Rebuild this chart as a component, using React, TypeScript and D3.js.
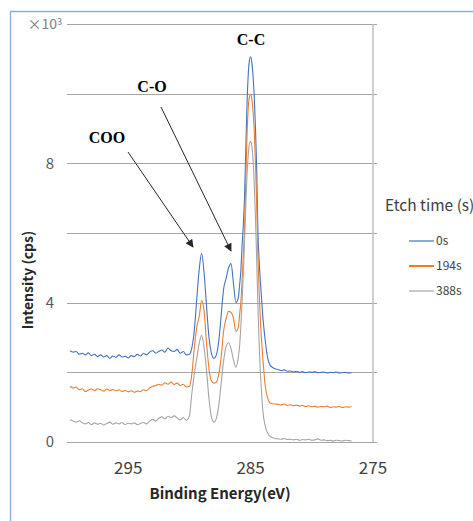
import React, { useEffect, useRef } from 'react';
import * as d3 from 'd3';

// binding energy (eV), read left to right along the reversed axis
const energies = [
  299.75, 299.5, 299.25, 299.0, 298.75, 298.5, 298.25, 298.0, 297.75, 297.5,
  297.25, 297.0, 296.75, 296.5, 296.25, 296.0, 295.75, 295.5, 295.25, 295.0,
  294.75, 294.5, 294.25, 294.0, 293.75, 293.5, 293.25, 293.0, 292.75, 292.5,
  292.25, 292.0, 291.75, 291.5, 291.25, 291.0, 290.75, 290.5, 290.25,
  290.0, 289.8, 289.6, 289.4, 289.2, 289.0, 288.8, 288.6, 288.4, 288.2,
  288.0, 287.8, 287.6, 287.4, 287.2, 287.0, 286.8, 286.6, 286.4, 286.2,
  286.0, 285.9, 285.8, 285.7, 285.6, 285.5, 285.4, 285.3, 285.2, 285.1,
  285.0, 284.9, 284.8, 284.7, 284.6, 284.5, 284.4, 284.3, 284.2, 284.1,
  284.0, 283.8, 283.6, 283.4, 283.2, 283.0,
  282.75, 282.5, 282.25, 282.0, 281.75, 281.5, 281.25, 281.0, 280.75, 280.5,
  280.25, 280.0, 279.75, 279.5, 279.25, 279.0, 278.75, 278.5, 278.25, 278.0,
  277.75, 277.5, 277.25, 277.0, 276.75,
];

// intensity in 10^3 cps
const etch0s = [
  2.62, 2.58, 2.6, 2.52, 2.55, 2.5, 2.56, 2.48, 2.52, 2.45,
  2.5, 2.44, 2.48, 2.4, 2.47, 2.43, 2.5, 2.44, 2.46, 2.41,
  2.48, 2.45, 2.52, 2.47, 2.55, 2.5, 2.58, 2.62, 2.55, 2.6,
  2.64, 2.58, 2.7, 2.62, 2.6, 2.66, 2.55, 2.6, 2.5,
  2.52, 2.7, 3.2, 4.1, 4.95, 5.42, 4.85, 3.9, 3.0, 2.55,
  2.4, 2.5, 2.9, 3.65, 4.4, 4.7, 5.0, 5.12, 4.55, 4.0,
  4.15, 4.5, 4.9, 5.6, 6.2, 7.0, 8.3, 9.6, 10.5, 10.95,
  11.06, 10.9, 10.5, 9.9, 9.0, 7.8, 6.0, 5.2, 4.6, 4.1,
  3.6, 2.9, 2.4, 2.2, 2.14, 2.1,
  2.08, 2.05, 2.07, 2.03, 2.04, 2.01, 2.03, 2.0, 2.02, 1.99,
  2.01, 2.0, 2.02, 1.99, 2.0, 2.01, 1.98, 2.0, 1.99, 2.01,
  1.98, 1.99, 2.0, 1.98, 1.99,
];

const etch194s = [
  1.6, 1.55, 1.58, 1.5, 1.53, 1.45, 1.49, 1.52, 1.47, 1.53,
  1.5, 1.46, 1.52, 1.48, 1.51, 1.47, 1.5, 1.45, 1.48, 1.44,
  1.47, 1.43, 1.46, 1.45, 1.5, 1.47, 1.55, 1.6, 1.62, 1.66,
  1.63, 1.7, 1.66, 1.72, 1.65, 1.69, 1.62, 1.66, 1.58,
  1.6, 1.95, 2.7, 3.3, 3.6, 4.06, 3.78, 2.85, 2.1, 1.75,
  1.69, 1.72, 1.95, 2.45, 3.2, 3.55, 3.75, 3.72, 3.55, 3.18,
  3.3, 3.65, 4.0, 4.6, 5.3, 6.1, 7.4, 8.7, 9.55, 9.9,
  9.98, 9.85, 9.5, 8.9, 8.0, 6.8, 5.3, 4.3, 3.5, 2.9,
  2.4, 1.6, 1.25, 1.12, 1.1, 1.09,
  1.08, 1.06, 1.09, 1.05, 1.07, 1.04, 1.06, 1.03, 1.05, 1.02,
  1.04, 1.01, 1.03, 1.0, 1.02, 1.01, 1.03, 0.99, 1.01, 1.0,
  1.02, 0.99, 1.01, 1.0, 1.02,
];

const etch388s = [
  0.64, 0.6, 0.57, 0.61, 0.55, 0.52, 0.56, 0.5, 0.55, 0.51,
  0.54, 0.49, 0.53, 0.57, 0.51, 0.55, 0.52, 0.56, 0.5, 0.54,
  0.52, 0.55, 0.5, 0.53, 0.56, 0.52, 0.6, 0.65, 0.6, 0.68,
  0.72, 0.66, 0.74, 0.7, 0.75, 0.69, 0.63, 0.7, 0.62,
  0.75, 1.4, 1.95, 2.4, 2.83, 3.06, 2.72, 2.05, 1.25, 0.72,
  0.57, 0.68, 1.05, 1.7, 2.34, 2.75, 2.85, 2.68, 2.36, 2.14,
  2.45, 2.75, 3.3, 4.0, 4.8, 5.7, 6.7, 7.6, 8.2, 8.55,
  8.63, 8.5, 8.1, 7.4, 6.4, 5.2, 3.9, 2.8, 2.0, 1.4,
  0.9, 0.45, 0.25, 0.16, 0.12, 0.1,
  0.09, 0.08, 0.1, 0.07, 0.08, 0.06, 0.08, 0.05, 0.07, 0.06,
  0.08, 0.05, 0.06, 0.09, 0.05, 0.06, 0.04, 0.05, 0.03, 0.05,
  0.04, 0.03, 0.05, 0.04, 0.03,
];

const seriesNames = ['0s', '194s', '388s'];
const seriesColors = ['#4472C4', '#ED7D31', '#A5A5A5'];
const xTicks = [295, 285, 275];
const yGridValues = [0, 2, 4, 6, 8, 10, 12];
const yTickLabels = [0, 4, 8];

const App = () => {
  const chartRef = useRef<HTMLDivElement>(null);

  useEffect(() => {
    const width = 473;
    const height = 521;
    const sans = '"Noto Sans CJK JP", "Noto Sans", sans-serif';
    const serif = '"Liberation Serif", "Times New Roman", serif';

    const svg = d3
      .select(chartRef.current)
      .append('svg')
      .attr('width', width)
      .attr('height', height)
      .style('position', 'absolute')
      .style('left', 0)
      .style('top', 0)
      .style('background', '#fff');

    const x = d3.scaleLinear().domain([300, 275]).range([67, 373]);
    const y = d3.scaleLinear().domain([0, 12]).range([442, 24]);

    // chart frame (only top and left are visible)
    svg.append('path')
      .attr('d', `M10.5,${height} V11.5 H${width}`)
      .attr('fill', 'none')
      .attr('stroke', '#8EAADB')
      .attr('stroke-width', 1.3);

    // horizontal gridlines
    svg.append('g')
      .selectAll('line')
      .data(yGridValues)
      .enter()
      .append('line')
      .attr('x1', x(300))
      .attr('x2', x(275) + 4)
      .attr('y1', (d) => Math.round(y(d)) + 0.5)
      .attr('y2', (d) => Math.round(y(d)) + 0.5)
      .attr('stroke', '#A6A6A6')
      .attr('stroke-width', 1.2);

    // value axis sits on the right because the energy axis is reversed
    svg.append('line')
      .attr('x1', x(275))
      .attr('x2', x(275))
      .attr('y1', y(12))
      .attr('y2', y(0))
      .attr('stroke', '#BFBFBF')
      .attr('stroke-width', 1.5);

    // y tick labels
    svg.append('g')
      .selectAll('text')
      .data(yTickLabels)
      .enter()
      .append('text')
      .attr('x', 54)
      .attr('y', (d) => y(d))
      .attr('dy', '0.35em')
      .attr('text-anchor', 'end')
      .attr('font-family', sans)
      .attr('font-size', 15)
      .attr('fill', '#595959')
      .text((d) => d);

    const mult = svg.append('text')
      .attr('x', 62)
      .attr('y', y(12))
      .attr('dy', '0.35em')
      .attr('text-anchor', 'end')
      .attr('font-family', sans)
      .attr('font-size', 14)
      .attr('fill', '#7F7F7F');
    mult.append('tspan').text('×10');
    mult.append('tspan').attr('font-size', 9).attr('dy', '-0.45em').text('3');

    // x tick labels
    svg.append('g')
      .selectAll('text')
      .data(xTicks)
      .enter()
      .append('text')
      .attr('x', (d) => x(d))
      .attr('y', 468)
      .attr('dy', '0.35em')
      .attr('text-anchor', 'middle')
      .attr('font-family', sans)
      .attr('font-size', 17)
      .attr('fill', '#404040')
      .text((d) => d);

    // axis titles
    svg.append('text')
      .attr('x', 220)
      .attr('y', 499)
      .attr('text-anchor', 'middle')
      .attr('font-family', sans)
      .attr('font-size', 15)
      .attr('font-weight', 'bold')
      .attr('fill', '#262626')
      .text('Binding Energy(eV)');

    svg.append('text')
      .attr('transform', 'translate(33,280) rotate(-90)')
      .attr('text-anchor', 'middle')
      .attr('font-family', sans)
      .attr('font-size', 14)
      .attr('font-weight', 'bold')
      .attr('fill', '#262626')
      .text('Intensity (cps)');

    // spectra
    const allSeries = [etch0s, etch194s, etch388s];
    const line = d3
      .line<number>()
      .x((d, i) => x(energies[i]))
      .y((d) => y(d))
      .curve(d3.curveMonotoneX);

    svg.append('g')
      .selectAll('path')
      .data(allSeries)
      .enter()
      .append('path')
      .attr('d', (d) => line(d))
      .attr('fill', 'none')
      .attr('stroke', (d, i) => seriesColors[i])
      .attr('stroke-width', 1.1)
      .attr('stroke-linejoin', 'round');

    // peak annotations
    const defs = svg.append('defs');
    defs.append('marker')
      .attr('id', 'arrowHead')
      .attr('viewBox', '0 0 10 10')
      .attr('refX', 9)
      .attr('refY', 5)
      .attr('markerWidth', 9)
      .attr('markerHeight', 8)
      .attr('markerUnits', 'userSpaceOnUse')
      .attr('orient', 'auto')
      .append('path')
      .attr('d', 'M0,0 L10,5 L0,10 Z')
      .attr('fill', '#262626');

    const arrows = [
      [128, 152, 193, 247],
      [161, 107, 231, 251],
    ];
    svg.append('g')
      .selectAll('line')
      .data(arrows)
      .enter()
      .append('line')
      .attr('x1', (d) => d[0])
      .attr('y1', (d) => d[1])
      .attr('x2', (d) => d[2])
      .attr('y2', (d) => d[3])
      .attr('stroke', '#262626')
      .attr('stroke-width', 1)
      .attr('marker-end', 'url(#arrowHead)');

    const labels = [
      { text: 'C-C', x: 251, y: 45 },
      { text: 'C-O', x: 152, y: 92 },
      { text: 'COO', x: 107, y: 143 },
    ];
    svg.append('g')
      .selectAll('text')
      .data(labels)
      .enter()
      .append('text')
      .attr('x', (d) => d.x)
      .attr('y', (d) => d.y)
      .attr('text-anchor', 'middle')
      .attr('font-family', serif)
      .attr('font-size', 16)
      .attr('font-weight', 'bold')
      .attr('fill', '#000')
      .text((d) => d.text);

    // legend
    const legend = svg.append('g');
    legend.append('text')
      .attr('x', 385)
      .attr('y', 206)
      .attr('dy', '0.35em')
      .attr('font-family', sans)
      .attr('font-size', 15.5)
      .attr('fill', '#404040')
      .text('Etch time (s)');

    const items = legend
      .selectAll('g.item')
      .data(seriesNames)
      .enter()
      .append('g')
      .attr('class', 'item')
      .attr('transform', (d, i) => `translate(0,${241 + i * 25})`);
    items.append('line')
      .attr('x1', 409)
      .attr('x2', 434)
      .attr('stroke', (d, i) => seriesColors[i])
      .attr('stroke-width', (d, i) => (i === 1 ? 2 : 1.2));
    items.append('text')
      .attr('x', 436)
      .attr('dy', '0.35em')
      .attr('font-family', sans)
      .attr('font-size', 12)
      .attr('fill', '#404040')
      .text((d) => d);

    return () => {
      d3.select(chartRef.current).selectAll('*').remove();
    };
  }, []);

  return <div ref={chartRef}></div>;
};

export default App;
